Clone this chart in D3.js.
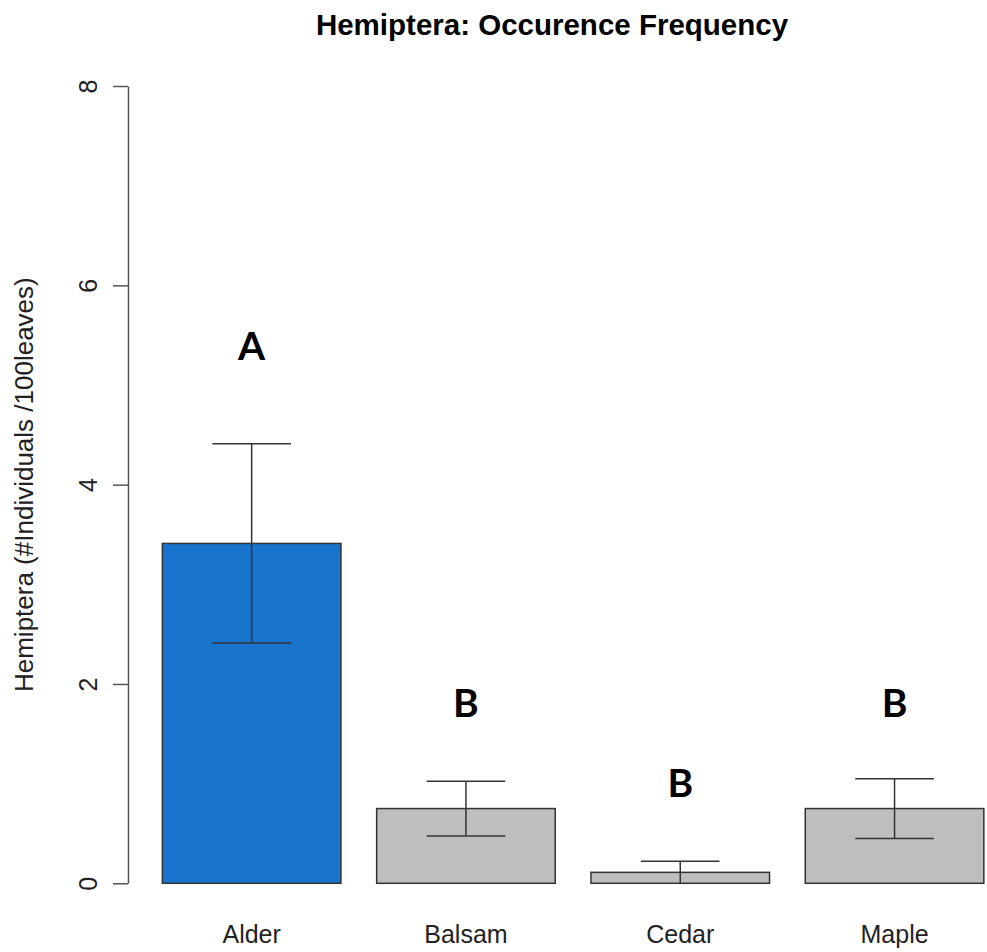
<!DOCTYPE html>
<html>
<head>
<meta charset="utf-8">
<script src="https://cdn.jsdelivr.net/npm/d3@7"></script>
<style>
  body { margin: 0; background: #fff; }
  text { font-family: "Liberation Sans", Arial, sans-serif; }
</style>
</head>
<body>
<div id="chart"></div>
<script>
"use strict";

// data
var trees = ["Alder", "Balsam", "Cedar", "Maple"];
var means = [3.41, 0.75, 0.11, 0.75];
var errors = [1.0, 0.275, 0.11, 0.30];
var barColors = ["#1874CD", "#BEBEBE", "#BEBEBE", "#BEBEBE"];
var groupLetters = ["A", "B", "B", "B"];
var letterY = [5.25, 1.67, 0.87, 1.67];
var yTicks = [0, 2, 4, 6, 8];

var width = 987;
var height = 952;

var svg = d3.select("#chart")
  .append("svg")
  .attr("width", width)
  .attr("height", height);

var x = d3.scaleBand()
  .domain(trees)
  .range([144.5, 1001.7])
  .paddingInner(1 / 6)
  .paddingOuter(1 / 12);

var y = d3.scaleLinear()
  .domain([0, 8])
  .range([883.3, 86]);

// bars
svg.append("g")
  .selectAll("rect")
  .data(trees)
  .enter()
  .append("rect")
    .attr("x", function(d) { return x(d); })
    .attr("y", function(d, i) { return y(means[i]); })
    .attr("width", x.bandwidth())
    .attr("height", function(d, i) { return y(0) - y(means[i]); })
    .attr("fill", function(d, i) { return barColors[i]; })
    .attr("stroke", "#333")
    .attr("stroke-width", 1.5);

// error bars
var capHalf = x.bandwidth() * 0.22;
var errGroups = svg.append("g")
  .selectAll("g")
  .data(trees)
  .enter()
  .append("g")
    .attr("stroke", "#333")
    .attr("stroke-width", 1.5);

errGroups.append("line")
  .attr("x1", function(d) { return x(d) + x.bandwidth() / 2; })
  .attr("x2", function(d) { return x(d) + x.bandwidth() / 2; })
  .attr("y1", function(d, i) { return y(Math.max(0, means[i] - errors[i])); })
  .attr("y2", function(d, i) { return y(means[i] + errors[i]); });

errGroups.append("line")
  .attr("x1", function(d) { return x(d) + x.bandwidth() / 2 - capHalf; })
  .attr("x2", function(d) { return x(d) + x.bandwidth() / 2 + capHalf; })
  .attr("y1", function(d, i) { return y(means[i] + errors[i]); })
  .attr("y2", function(d, i) { return y(means[i] + errors[i]); });

errGroups.filter(function(d, i) { return means[i] - errors[i] > 0.01; })
  .append("line")
  .attr("x1", function(d) { return x(d) + x.bandwidth() / 2 - capHalf; })
  .attr("x2", function(d) { return x(d) + x.bandwidth() / 2 + capHalf; })
  .attr("y1", function(d) { var i = trees.indexOf(d); return y(means[i] - errors[i]); })
  .attr("y2", function(d) { var i = trees.indexOf(d); return y(means[i] - errors[i]); });

// significance letters
svg.append("g")
  .selectAll("text")
  .data(groupLetters)
  .enter()
  .append("text")
    .attr("x", function(d, i) { return x(trees[i]) + x.bandwidth() / 2; })
    .attr("y", function(d, i) { return y(letterY[i]); })
    .attr("text-anchor", "middle")
    .style("font-family", "Lato, 'Open Sans', sans-serif")
    .style("font-weight", "bold")
    .style("font-size", "39px")
    .attr("fill", "#000")
    .text(function(d) { return d; });

// y axis
var yAxis = d3.axisLeft(y)
  .tickValues(yTicks)
  .tickSize(15)
  .tickSizeOuter(0)
  .tickPadding(0);

var axisG = svg.append("g")
  .attr("transform", "translate(128,0)")
  .call(yAxis);

axisG.select(".domain").attr("stroke", "#555").attr("stroke-width", 1.5);
axisG.selectAll(".tick line").attr("stroke", "#555").attr("stroke-width", 1.5);
axisG.selectAll(".tick text")
  .attr("x", 0)
  .attr("dy", null)
  .attr("text-anchor", "middle")
  .attr("transform", "translate(-31,0) rotate(-90)")
  .style("font-size", "25px")
  .attr("fill", "#222");

// category labels
svg.append("g")
  .selectAll("text")
  .data(trees)
  .enter()
  .append("text")
    .attr("x", function(d) { return x(d) + x.bandwidth() / 2; })
    .attr("y", 943)
    .attr("text-anchor", "middle")
    .style("font-size", "25px")
    .attr("fill", "#222")
    .text(function(d) { return d; });

// y axis title
svg.append("text")
  .attr("transform", "translate(33," + ((y(0) + y(8)) / 2) + ") rotate(-90)")
  .attr("text-anchor", "middle")
  .style("font-size", "26px")
  .attr("fill", "#222")
  .text("Hemiptera (#Individuals /100leaves)");

// title
svg.append("text")
  .attr("x", 552)
  .attr("y", 35)
  .attr("text-anchor", "middle")
  .style("font-size", "29.5px")
  .style("font-weight", "bold")
  .attr("fill", "#000")
  .text("Hemiptera: Occurence Frequency");
</script>
</body>
</html>
